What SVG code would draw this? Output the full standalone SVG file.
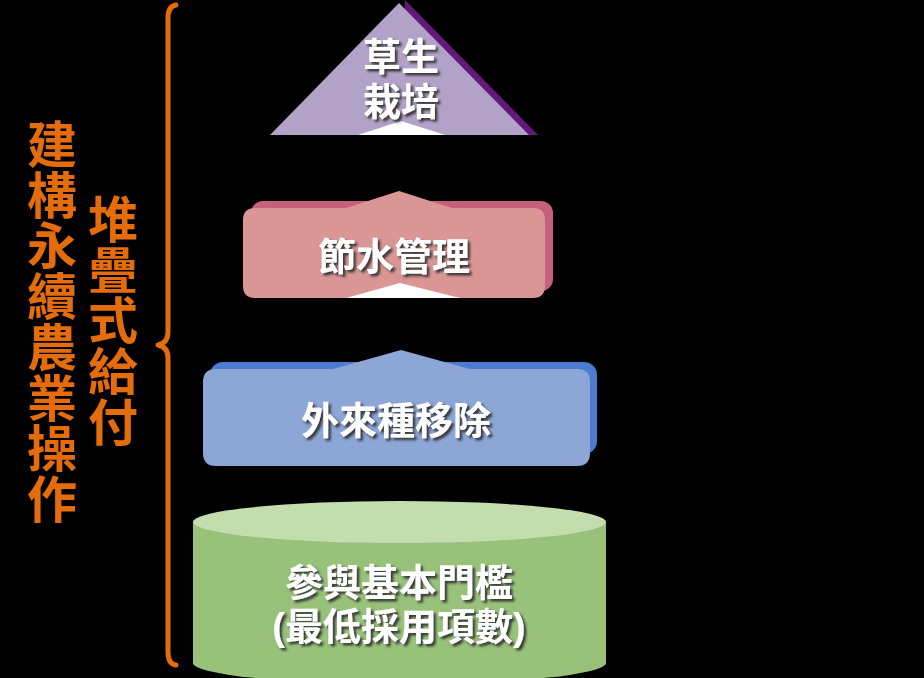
<svg xmlns="http://www.w3.org/2000/svg" width="924" height="678" viewBox="0 0 924 678">
<defs>
<filter id="sh" x="-10%" y="-10%" width="130%" height="140%">
<feDropShadow dx="2.5" dy="2.5" stdDeviation="1" flood-color="#333333" flood-opacity="0.95"/>
</filter>
<style>
.lbl{font-family:"Noto Sans CJK TC","Noto Sans CJK SC",sans-serif;font-weight:700;font-size:38px;fill:#ffffff;text-anchor:middle;filter:url(#sh)}
.two{font-family:"Liberation Sans","Noto Sans CJK TC",sans-serif}
.side{font-family:"Noto Sans CJK TC","Noto Sans CJK SC",sans-serif;font-weight:700;font-size:50px;fill:#E46C0A;writing-mode:vertical-rl;text-orientation:upright;letter-spacing:0.7px}
</style>
</defs>
<rect x="0" y="0" width="924" height="678" fill="#000000"/>

<g id="connectors">
<path d="M176,5 Q168,6 168,18 L168,332 Q168,343 158,345 Q168,347 168,358 L168,652 Q168,664 176,665" fill="none" stroke="#E46C0A" stroke-width="5" stroke-linecap="round" stroke-linejoin="round"/>
</g>

<g id="node-top">
<polygon points="405,0 538,135 400,135" fill="#63197A"/>
<polygon points="399,3 529,135 270,135" fill="#B3A2C7"/>
<polygon points="358,135 401,121 445,135" fill="#ffffff"/>
<text class="lbl two" x="401" y="70">草生</text>
<text class="lbl two" x="401" y="115">栽培</text>
</g>

<g id="node-water">
<rect x="251" y="201" width="302" height="90" rx="12" fill="#C5617A"/>
<path d="M255,208 L346,208 L399,191 L452,208 L533,208 Q545,208 545,220 L545,286 Q545,298 533,298 L255,298 Q243,298 243,286 L243,220 Q243,208 255,208 Z" fill="#D99694"/>
<polygon points="346,298 400,283 460,298" fill="#ffffff"/>
<text class="lbl" x="394" y="270">節水管理</text>
</g>

<g id="node-alien">
<rect x="210" y="362" width="387" height="92" rx="13" fill="#4A7DD2"/>
<path d="M216,369 L333,369 L401,350 L470,369 L577,369 Q590,369 590,382 L590,453 Q590,466 577,466 L216,466 Q203,466 203,453 L203,382 Q203,369 216,369 Z" fill="#8CA6D6"/>
<text class="lbl" x="396" y="434">外來種移除</text>
</g>

<g id="node-base">
<path d="M193,522 L193,663 A206.5,21 0 0 0 606,663 L606,522 Z" fill="#98C27A"/>
<ellipse cx="399.5" cy="522" rx="206.5" ry="21" fill="#C3DDAF"/>
<text class="lbl two" x="399" y="596">參與基本門檻</text>
<text class="lbl two" x="399" y="640">(最低採用項數)</text>
</g>

<g id="label-outer">
<text class="side" x="52" y="119">建構永續農業操作</text>
</g>
<g id="label-inner">
<text class="side" x="113" y="194">堆疊式給付</text>
</g>
</svg>
